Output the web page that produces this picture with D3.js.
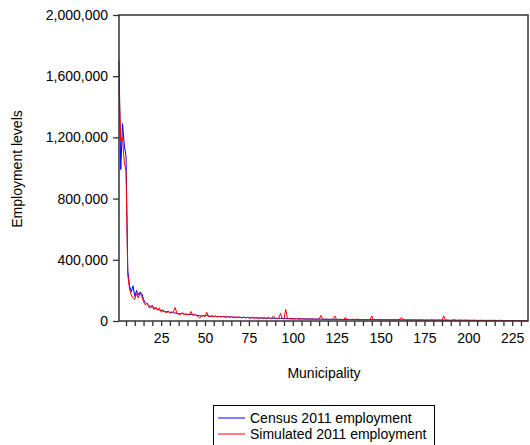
<!DOCTYPE html>
<html>
<head>
<meta charset="utf-8">
<script src="https://d3js.org/d3.v7.min.js"></script>
<style>
  body { margin: 0; background: #fff; }
  text { font-family: "Liberation Sans", Arial, sans-serif; font-size: 14px; fill: #000; }
</style>
</head>
<body>
<div id="chart"></div>
<script>
// employment per municipality, in thousands (municipality 1..234)
var census = [
  1700, 990, 1290, 1150, 1080, 330, 230, 190, 230, 160,
  200, 170, 190, 180, 140, 120, 112, 100, 96, 90,
  86, 82, 76, 72, 68, 72, 62, 60, 64, 56,
  58, 54, 52, 50, 48, 47, 50, 44, 43, 45,
  42, 44, 40, 41, 38, 36, 34, 33, 35, 32,
  36, 33, 31, 32, 30, 31, 29, 30, 28, 29,
  28, 27, 28, 26, 27, 25, 26, 24, 25, 24,
  23, 24, 22, 23, 22, 21, 22, 20, 21, 20,
  20, 19, 20, 19, 18, 19, 18, 18, 17, 18,
  17, 17, 16, 17, 16, 16, 15, 16, 15, 15,
  15, 14, 15, 14, 14, 14, 13, 14, 13, 13,
  13, 13, 12, 13, 12, 12, 12, 12, 11, 12,
  11, 11, 11, 11, 11, 10, 11, 10, 10, 10,
  10, 10, 10, 10, 10, 10, 10, 9, 10, 9,
  9, 9, 9, 9, 9, 9, 9, 9, 8, 9,
  8, 8, 8, 8, 8, 8, 8, 8, 8, 8,
  8, 7, 8, 7, 7, 7, 7, 7, 7, 7,
  7, 7, 6, 7, 6, 6, 6, 6, 6, 6,
  6, 6, 6, 6, 6, 6, 5, 6, 5, 5,
  5, 5, 5, 5, 5, 5, 5, 5, 5, 5,
  5, 4, 5, 4, 4, 4, 4, 4, 4, 4,
  4, 4, 4, 4, 4, 4, 3, 4, 3, 3,
  3, 3, 3, 3, 3, 3, 3, 3, 3, 3,
  3, 3, 2, 2
];
var simulated = [
  1540, 1180, 1200, 1040, 980, 300, 210, 170, 150, 140,
  180, 150, 185, 160, 125, 105, 118, 92, 85, 105,
  74, 90, 70, 86, 58, 66, 60, 54, 60, 52,
  55, 60, 88, 50, 44, 42, 55, 40, 46, 42,
  40, 62, 38, 44, 36, 30, 18, 32, 34, 30,
  57, 30, 28, 34, 27, 33, 26, 31, 25, 30,
  27, 24, 31, 23, 29, 22, 27, 21, 26, 23,
  20, 26, 19, 24, 21, 18, 25, 17, 22, 19,
  18, 22, 17, 21, 16, 24, 17, 16, 33, 18,
  15, 19, 50, 16, 14, 76, 15, 17, 13, 14,
  12, 16, 13, 11, 15, 12, 14, 11, 13, 12,
  11, 13, 10, 12, 11, 37, 11, 10, 12, 10,
  9, 11, 10, 33, 10, 9, 11, 8, 10, 24,
  9, 10, 8, 12, 8, 9, 13, 8, 9, 8,
  10, 7, 9, 8, 33, 8, 7, 9, 7, 8,
  7, 8, 6, 7, 9, 6, 7, 8, 6, 7,
  14, 22, 8, 6, 5, 7, 6, 5, 8, 6,
  5, 6, 7, 5, 4, 6, 5, 4, 9, 5,
  4, 5, 6, 4, 5, 33, 4, 5, 4, 3,
  5, 9, 4, 3, 6, 4, 3, 4, 5, 3,
  3, 4, 3, 5, 3, 2, 4, 3, 3, 2,
  3, 2, 4, 2, 3, 2, 3, 5, 2, 2,
  3, 2, 2, 3, 2, 2, 3, 2, 2, 2,
  3, 2, 2, 1
];
var yTicks = [0, 400000, 800000, 1200000, 1600000, 2000000];
var xTicks = d3.range(5, 231, 5);
var seriesNames = ["Census 2011 employment", "Simulated 2011 employment"];
var seriesColors = ["#0000ff", "#ff0000"];

var width = 530, height = 445;
var plotLeft = 119, plotRight = 528, plotTop = 15, plotBottom = 321;

var svg = d3.select("#chart").append("svg")
  .attr("width", width)
  .attr("height", height);

var x = d3.scaleLinear().domain([1, census.length]).range([plotLeft, plotRight]);
var y = d3.scaleLinear().domain([0, 2000000]).range([plotBottom, plotTop]);

// y axis
var yAxis = svg.append("g")
  .attr("transform", "translate(" + plotLeft + ",0)")
  .call(d3.axisLeft(y).tickValues(yTicks).tickSize(6).tickPadding(5).tickFormat(d3.format(",")));
yAxis.select(".domain").remove();
yAxis.selectAll("line").attr("stroke", "#333").attr("stroke-width", 1.3);
yAxis.selectAll("text").style("font-size", "14px");

// x axis
var xAxis = svg.append("g")
  .attr("transform", "translate(0," + plotBottom + ")")
  .call(d3.axisBottom(x).tickValues(xTicks).tickSize(5).tickPadding(7)
    .tickFormat(function (d) { return d % 25 === 0 ? d : ""; }));
xAxis.select(".domain").remove();
xAxis.selectAll("line").attr("stroke", "#333").attr("stroke-width", 1.3);
xAxis.selectAll("text").style("font-size", "14px");

// lines
var line = d3.line()
  .x(function (d, i) { return x(i + 1); })
  .y(function (d) { return y(d * 1000); });

[census, simulated].forEach(function (s, k) {
  svg.append("path")
    .datum(s)
    .attr("fill", "none")
    .attr("stroke", seriesColors[k])
    .attr("stroke-width", 1)
    .attr("d", line);
});

// frame
svg.append("rect")
  .attr("x", plotLeft).attr("y", plotTop)
  .attr("width", plotRight - plotLeft).attr("height", plotBottom - plotTop)
  .attr("fill", "none")
  .attr("stroke", "#333")
  .attr("stroke-width", 1.5);

// axis titles
svg.append("text")
  .attr("transform", "translate(22,169) rotate(-90)")
  .attr("text-anchor", "middle")
  .text("Employment levels");

svg.append("text")
  .attr("x", 324).attr("y", 378)
  .attr("text-anchor", "middle")
  .text("Municipality");

// legend
var legend = svg.append("g");
legend.append("rect")
  .attr("x", 213.5).attr("y", 405.5)
  .attr("width", 221).attr("height", 45)
  .attr("fill", "#fff")
  .attr("stroke", "#000")
  .attr("stroke-width", 1);
seriesNames.forEach(function (name, k) {
  var ly = 418 + k * 16;
  legend.append("line")
    .attr("x1", 218).attr("x2", 245)
    .attr("y1", ly).attr("y2", ly)
    .attr("stroke", seriesColors[k])
    .attr("stroke-width", 1);
  legend.append("text")
    .attr("x", 250).attr("y", ly + 5)
    .text(name);
});
</script>
</body>
</html>
